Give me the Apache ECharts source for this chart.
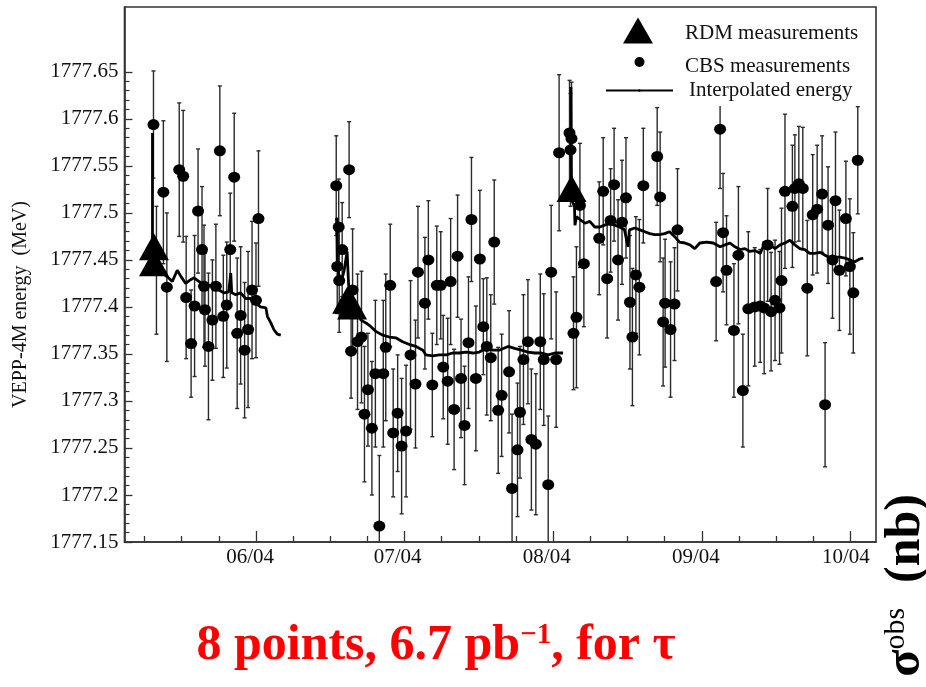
<!DOCTYPE html>
<html><head><meta charset="utf-8">
<script src="https://cdn.jsdelivr.net/npm/echarts@6/dist/echarts.min.js"></script>
<style>html,body{margin:0;padding:0;background:#fff}#c{width:926px;height:687px}</style>
</head><body><div id="c"></div>
<script>
// ---- data (x = days, 06/04 tick = day 30; y = energy in MeV) ----
const cbsDay = [9.3,9.9,11.3,12.0,14.5,15.3,15.9,16.9,17.6,18.3,19.1,19.5,19.7,20.4,21.2,21.9,22.7,23.4,24.1,24.8,25.6,26.2,26.9,27.7,28.4,29.2,30.0,30.5,
46.2,46.4,46.7,46.8,47.4,48.8,49.2,49.5,50.5,51.3,51.9,52.6,53.4,54.1,54.9,55.7,56.2,57.1,57.7,58.6,59.4,60.3,61.2,62.2,62.7,64.1,64.8,65.6,66.5,67.3,67.8,68.7,69.3,70.0,70.7,71.4,72.1,72.9,73.5,74.4,75.2,75.9,76.6,77.4,78.1,78.9,79.6,81.1,81.7,
82.8,83.3,84.0,84.9,85.6,86.5,87.4,88.1,89.0,89.6,90.6,91.2,93.3,93.5,93.7,94.1,94.7,95.4,96.2,99.3,100.1,100.9,101.6,102.3,103.1,103.9,104.7,105.5,106.0,106.7,107.4,108.2,111.0,111.6,112.2,112.6,113.7,114.5,115.1,
122.9,123.7,124.3,125.0,126.5,127.4,128.3,129.4,130.7,131.8,132.6,133.3,134.0,134.8,135.7,136.1,136.8,138.3,138.8,139.6,140.4,141.3,142.4,143.3,144.3,144.9,145.5,146.4,147.0,147.8,149.1,149.9,150.6,151.5];
const cbsE = [1777.594,1777.439,1777.522,1777.421,1777.546,1777.539,1777.410,1777.361,1777.401,1777.502,1777.461,1777.422,1777.397,1777.358,1777.386,1777.422,1777.566,1777.390,1777.402,1777.461,1777.538,1777.372,1777.391,1777.354,1777.376,1777.418,1777.407,1777.494,
1777.529,1777.443,1777.485,1777.428,1777.461,1777.546,1777.353,1777.418,1777.363,1777.368,1777.286,1777.312,1777.271,1777.329,1777.167,1777.329,1777.357,1777.423,1777.266,1777.287,1777.252,1777.268,1777.349,1777.318,1777.437,1777.404,1777.450,1777.317,1777.423,1777.423,1777.336,1777.321,1777.427,1777.291,1777.454,1777.324,1777.274,1777.362,1777.493,1777.324,1777.451,1777.379,1777.358,1777.346,1777.469,1777.290,1777.306,1777.331,1777.207,
1777.248,1777.288,1777.344,1777.363,1777.259,1777.254,1777.363,1777.344,1777.211,1777.437,1777.344,1777.564,1777.585,1777.567,1777.579,1777.372,1777.389,1777.508,1777.446,1777.473,1777.523,1777.430,1777.492,1777.530,1777.450,1777.490,1777.516,1777.405,1777.368,1777.434,1777.421,1777.529,1777.560,1777.517,1777.384,1777.404,1777.376,1777.403,1777.482,
1777.427,1777.589,1777.479,1777.439,1777.375,1777.455,1777.311,1777.398,1777.400,1777.401,1777.399,1777.466,1777.395,1777.407,1777.399,1777.428,1777.523,1777.507,1777.526,1777.531,1777.526,1777.420,1777.498,1777.504,1777.520,1777.296,1777.487,1777.450,1777.513,1777.439,1777.494,1777.443,1777.415,1777.556];
const cbsErr = [0.057,0.068,0.076,0.079,0.071,0.070,0.065,0.057,0.075,0.066,0.067,0.065,0.060,0.078,0.064,0.066,0.069,0.065,0.067,0.060,0.068,0.080,0.073,0.072,0.083,0.073,0.061,0.072,
0.053,0.050,0.051,0.055,0.050,0.051,0.050,0.065,0.072,0.070,0.072,0.060,0.071,0.078,0.075,0.078,0.078,0.065,0.068,0.062,0.072,0.070,0.079,0.068,0.070,0.070,0.063,0.055,0.063,0.057,0.055,0.067,0.067,0.064,0.065,0.063,0.063,0.070,0.066,0.077,0.073,0.051,0.073,0.067,0.066,0.067,0.065,0.065,0.079,
0.071,0.070,0.069,0.066,0.075,0.075,0.072,0.070,0.073,0.071,0.072,0.083,0.056,0.060,0.060,0.060,0.075,0.066,0.067,0.060,0.057,0.063,0.055,0.060,0.064,0.066,0.064,0.071,0.073,0.062,0.072,0.061,0.052,0.069,0.068,0.068,0.072,0.060,0.065,
0.063,0.063,0.063,0.058,0.071,0.073,0.060,0.082,0.063,0.060,0.070,0.060,0.063,0.064,0.060,0.077,0.082,0.065,0.057,0.061,0.065,0.072,0.064,0.068,0.062,0.066,0.062,0.062,0.073,0.064,0.061,0.072,0.064,0.057];

const rdmDay = [9.4,9.4,48.4,49.4,93.7];
const rdmE = [1777.464,1777.447,1777.407,1777.401,1777.526];

const interpDay1 = [9.1,9.1,10.0,11.1,12.1,13.1,14.1,14.9,15.8,16.8,17.5,18.5,19.5,20.5,21.5,22.5,23.5,24.5,24.9,25.1,25.9,26.9,27.9,28.9,29.9,30.9,32.0,32.3,33.0,33.6,34.3,35.0];
const interpE1 = [1777.585,1777.450,1777.443,1777.436,1777.432,1777.427,1777.439,1777.432,1777.425,1777.429,1777.431,1777.427,1777.424,1777.423,1777.423,1777.418,1777.415,1777.416,1777.436,1777.415,1777.413,1777.415,1777.409,1777.409,1777.404,1777.400,1777.399,1777.390,1777.383,1777.376,1777.371,1777.370];
const interpDay2 = [46.3,46.4,46.7,47.2,47.8,48.4,48.7,49.4,50.2,51.2,52.2,53.2,54.2,55.6,56.9,58.3,59.6,61.0,62.3,63.7,64.3,65.7,67.0,68.4,69.7,71.0,72.4,73.8,75.1,76.4,77.8,79.1,80.9,82.2,83.6,84.9,86.3,87.6,89.0,90.3,92.0];
const interpE2 = [1777.495,1777.448,1777.434,1777.426,1777.439,1777.459,1777.423,1777.410,1777.399,1777.386,1777.383,1777.379,1777.374,1777.370,1777.368,1777.367,1777.363,1777.360,1777.358,1777.354,1777.349,1777.348,1777.349,1777.349,1777.351,1777.351,1777.352,1777.351,1777.352,1777.356,1777.354,1777.354,1777.358,1777.356,1777.354,1777.352,1777.351,1777.351,1777.349,1777.351,1777.351];
const interpDay3 = [93.6,93.7,94.3,94.4,94.7,95.4,96.4,97.4,98.4,99.4,100.4,101.4,102.4,103.4,104.4,105.1,105.4,106.5,107.5,108.5,109.5,110.5,111.5,112.5,113.5,114.5,115.5,116.6,117.6,118.6,119.6,121.0,122.3,123.7,124.7,125.7,126.7,127.7,128.7,129.7,130.7,131.8,132.8,133.8,134.8,135.8,136.8,137.8,138.8,139.8,140.8,141.8,142.8,143.9,144.9,145.9,146.9,147.9,148.9,149.9,150.9,151.9,152.6];
const interpE3 = [1777.634,1777.514,1777.507,1777.487,1777.496,1777.493,1777.489,1777.491,1777.485,1777.485,1777.487,1777.489,1777.487,1777.485,1777.482,1777.464,1777.482,1777.484,1777.482,1777.480,1777.478,1777.477,1777.477,1777.478,1777.480,1777.475,1777.469,1777.468,1777.466,1777.462,1777.468,1777.469,1777.468,1777.464,1777.466,1777.468,1777.464,1777.461,1777.462,1777.459,1777.460,1777.457,1777.469,1777.466,1777.462,1777.466,1777.468,1777.471,1777.466,1777.462,1777.461,1777.457,1777.457,1777.458,1777.455,1777.452,1777.453,1777.453,1777.452,1777.450,1777.448,1777.451,1777.452];

const yTickLabels = [1777.15,1777.2,1777.25,1777.3,1777.35,1777.4,1777.45,1777.5,1777.55,1777.6,1777.65];
const xTickLabels = ['06/04','07/04','08/04','09/04','10/04'];
const xMajorTicks = [30,60,90,120,150];
const xLabelPos = [28.8,58.6,88.7,118.8,149.1];

// ---- build ----
const yMinor = [];
for (let i = 0; i <= 50; i++) { const v = +(1777.15 + i*0.01).toFixed(2); if (i % 5) yMinor.push(v); }
const xMinor = [];
for (let k = 1; k <= 20; k++) { const v = 7.5*k; if (v % 30) xMinor.push(v); }

const pair = (a,b) => a.map((d,i)=>[d,b[i]]);
const FONT = 'Liberation Serif';
const XMIN = 3.45, XMAX = 155.18, YMIN = 1777.15, YMAX = 1777.719;

const chart = echarts.init(document.getElementById('c'), null, {renderer:'canvas'});
const lineSeries = (d,e) => ({
  type:'line', name:'Interpolated energy', data: pair(d,e), symbol:'none', z:3,
  lineStyle:{color:'#000', width:2.8, opacity:1}, itemStyle:{color:'#000', opacity:1}, animation:false
});
chart.setOption({
  animation:false,
  textStyle:{fontFamily:FONT},
  grid:{left:124.5, top:7, right:50, bottom:145, show:true, borderColor:'#333', borderWidth:1.6},
  xAxis:[{
    type:'value', min:XMIN, max:XMAX, position:'bottom',
    axisLine:{show:true, lineStyle:{color:'#333', width:1.6}},
    splitLine:{show:false},
    axisTick:{show:true, inside:true, length:11, customValues:xMajorTicks, lineStyle:{color:'#333', width:1.3}},
    axisLabel:{customValues:xLabelPos, margin:5, fontSize:21, fontFamily:FONT, color:'#111',
      formatter:(v)=>{let b=0;xLabelPos.forEach((p,i)=>{if(Math.abs(p-v)<Math.abs(xLabelPos[b]-v))b=i;});return xTickLabels[b];}}
  },{
    type:'value', min:XMIN, max:XMAX, position:'bottom', gridIndex:0,
    axisLine:{show:false}, splitLine:{show:false}, axisLabel:{show:false},
    axisTick:{show:true, inside:true, length:6, customValues:xMinor, lineStyle:{color:'#333', width:1.3}}
  }],
  yAxis:[{
    type:'value', min:YMIN, max:YMAX, position:'left',
    name:'VEPP-4M energy  (MeV)', nameLocation:'middle', nameGap:94,
    nameTextStyle:{fontSize:20, fontFamily:FONT, color:'#111', padding:[0,60,0,0]},
    axisLine:{show:true, lineStyle:{color:'#333', width:1.6}},
    splitLine:{show:false},
    axisTick:{show:true, inside:true, length:8, customValues:yTickLabels, lineStyle:{color:'#333', width:1.3}},
    axisLabel:{customValues:yTickLabels, margin:6, fontSize:21, fontFamily:FONT, color:'#111',
      formatter:(v)=>String(+(+v).toFixed(2))}
  },{
    type:'value', min:YMIN, max:YMAX, position:'left', gridIndex:0,
    axisLine:{show:false}, splitLine:{show:false}, axisLabel:{show:false},
    axisTick:{show:true, inside:true, length:5, customValues:yMinor, lineStyle:{color:'#333', width:1.2}}
  }],
  legend:[
    {data:['RDM measurements'], left:623, top:17, padding:0, itemWidth:30, itemHeight:26, selectedMode:false, z:20,
     itemStyle:{opacity:1}, formatter:(n)=>'\n'+n,
     textStyle:{fontSize:21, lineHeight:6, fontFamily:FONT, color:'#111', padding:[0,0,0,27]}},
    {data:['CBS measurements'], left:634.5, top:47.5, padding:0, itemWidth:11, itemHeight:10, selectedMode:false, z:20,
     itemStyle:{opacity:1}, formatter:(n)=>'\n'+n,
     textStyle:{fontSize:21, lineHeight:8, fontFamily:FONT, color:'#111', padding:[0,0,0,35]}},
    {data:['Interpolated energy'], left:605, top:80, padding:0, itemWidth:67, itemHeight:3, selectedMode:false, z:20,
     textStyle:{fontSize:21, fontFamily:FONT, color:'#111', padding:[0,0,0,11]}}
  ],
  graphic:[
    {type:'rect', shape:{x:599, y:8, width:276, height:98}, style:{fill:'#fff'}, z:10, silent:true},
    {type:'text', x:906, y:494, rotation:Math.PI/2, z:10,
     style:{text:'{s|σ}{o|obs}{s|  (nb)}', align:'right', verticalAlign:'middle',
       rich:{s:{fontSize:50, fontFamily:FONT, fill:'#000', fontWeight:'bold'}, o:{fontSize:30, fontFamily:FONT, fill:'#000', verticalAlign:'top', padding:[0,0,14,0]}}}},
    {type:'text', x:436, y:646, z:10,
     style:{text:'{a|8 points, 6.7 pb}{s|−1}{a|, for τ}', align:'center', verticalAlign:'middle',
       rich:{a:{fontSize:50, fontWeight:'bold', fontFamily:FONT, fill:'#ff0000'}, s:{fontSize:29, fontWeight:'bold', fontFamily:FONT, fill:'#ff0000', verticalAlign:'top', padding:[0,0,16,0]}}}}
  ],
  series:[
    {type:'custom', name:'CBS errors', z:1, silent:true,
     data: cbsDay.map((d,i)=>[d, cbsE[i], cbsErr[i]]),
     encode:{x:0, y:1},
     renderItem:(params, api)=>{
       const x = api.value(0), v = api.value(1), e = api.value(2);
       const t = api.coord([x, v+e]), b = api.coord([x, v-e]);
       const cs = params.coordSys, yT = cs.y, yB = cs.y + cs.height;
       const y1 = Math.max(t[1], yT), y2 = Math.min(b[1], yB);
       const st = {stroke:'#2a2a2a', lineWidth:1.4};
       const ch = [{type:'line', shape:{x1:t[0], y1:y1, x2:t[0], y2:y2}, style:st}];
       if (t[1] >= yT) ch.push({type:'line', shape:{x1:t[0]-2, y1:t[1], x2:t[0]+2, y2:t[1]}, style:st});
       if (b[1] <= yB) ch.push({type:'line', shape:{x1:b[0]-2, y1:b[1], x2:b[0]+2, y2:b[1]}, style:st});
       return {type:'group', children:ch};
     }},
    {type:'scatter', name:'CBS measurements', data: pair(cbsDay, cbsE), symbol:'circle', symbolSize:[12,11], z:2,
     itemStyle:{color:'#000', opacity:1}},
    lineSeries(interpDay1, interpE1),
    lineSeries(interpDay2, interpE2),
    lineSeries(interpDay3, interpE3),
    {type:'scatter', name:'RDM measurements', data: pair(rdmDay, rdmE), symbol:'triangle', symbolSize:[30,27], z:4,
     itemStyle:{color:'#000', opacity:1}}
  ]
});
</script></body></html>
